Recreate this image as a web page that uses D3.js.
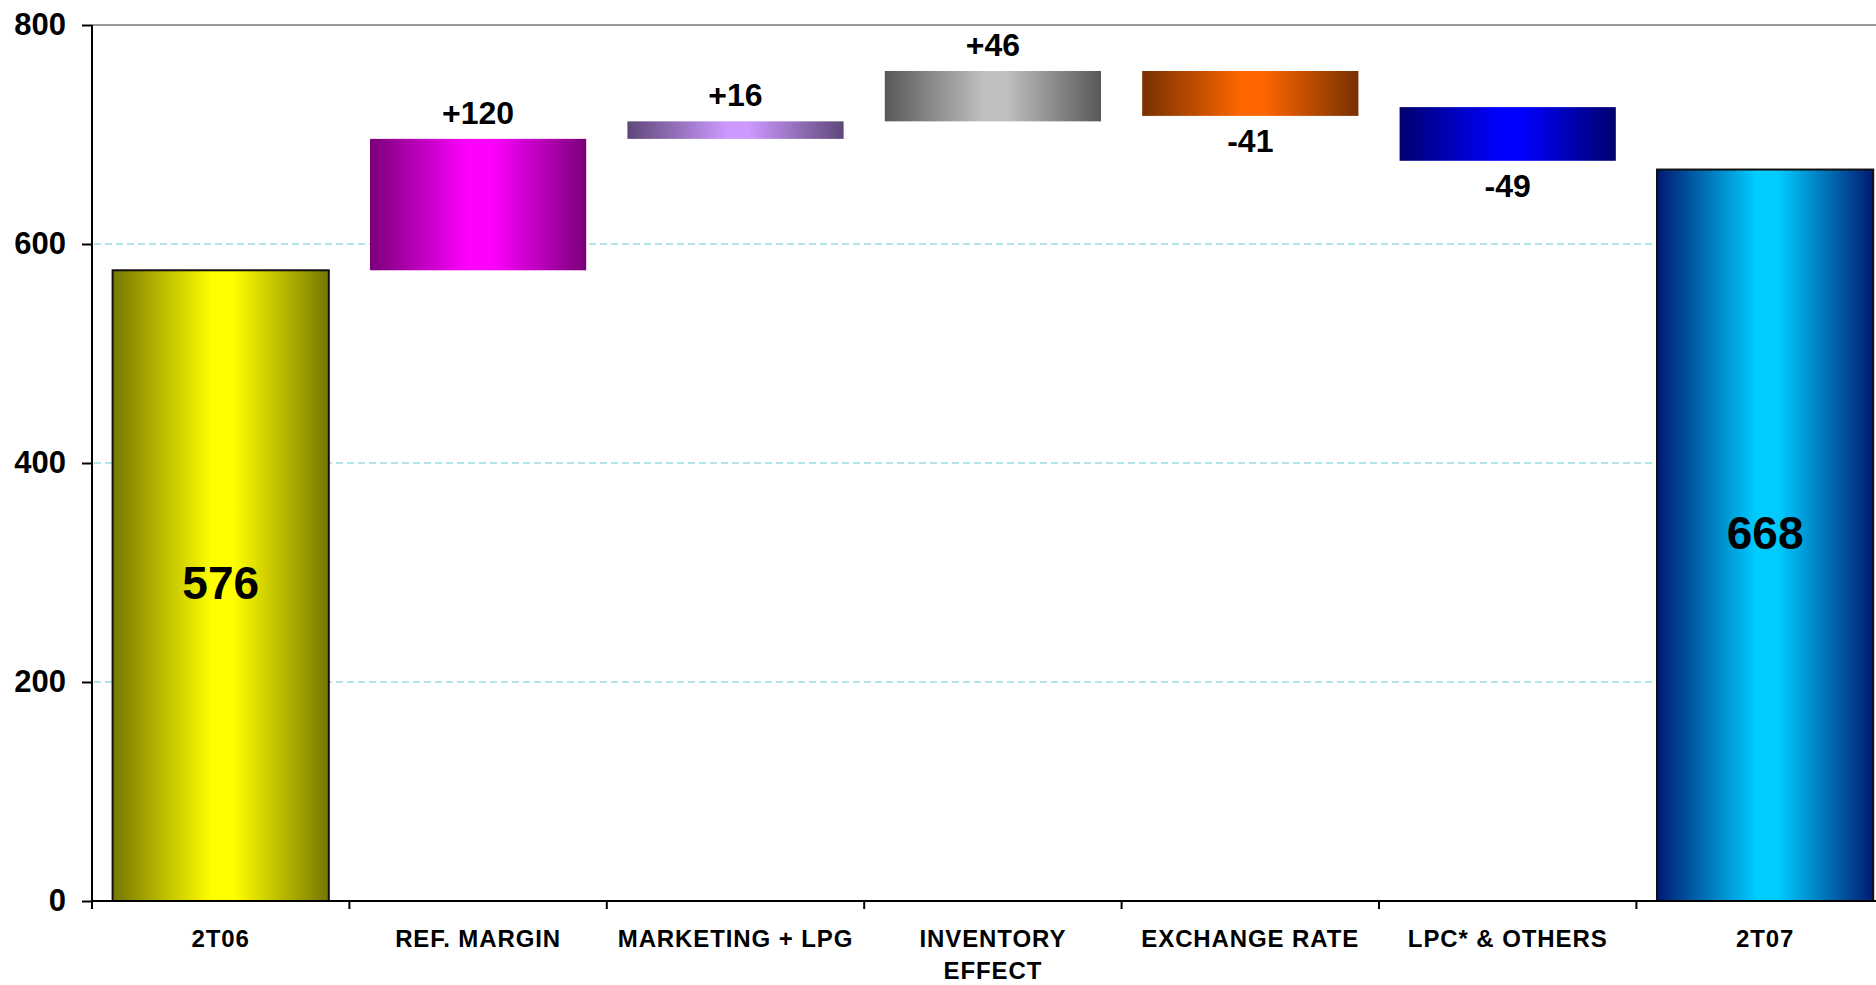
<!DOCTYPE html>
<html>
<head>
<meta charset="utf-8">
<script src="https://cdn.jsdelivr.net/npm/d3@7"></script>
<style>
  body { margin: 0; background: #fff; }
  svg { display: block; font-family: "Liberation Sans", Arial, sans-serif; font-weight: bold; }
</style>
</head>
<body>
<div id="chart"></div>
<script>
// waterfall data
const categories = ['2T06', 'REF. MARGIN', 'MARKETING + LPG', 'INVENTORY\nEFFECT', 'EXCHANGE RATE', 'LPC* & OTHERS', '2T07'];
const bases = [0, 576, 696, 712, 717, 676, 0];
const heights = [576, 120, 16, 46, 41, 49, 668];
const valueLabels = ['576', '+120', '+16', '+46', '-41', '-49', '668'];
const isTotal = [true, false, false, false, false, false, true];
const yTicks = [0, 200, 400, 600, 800];
const gradColors = [
  ['#767600', '#ffff00'],
  ['#7a007a', '#ff00ff'],
  ['#5e4878', '#cc99ff'],
  ['#585858', '#c0c0c0'],
  ['#763000', '#ff6600'],
  ['#00006e', '#0000ff'],
  ['#001a72', '#00ccff']
];

const width = 1876, height = 985;
const plotLeft = 92, plotTop = 25, plotBottom = 901;
const band = 257.4;

const svg = d3.select('#chart').append('svg')
  .attr('width', width)
  .attr('height', height);

const x = d3.scaleBand()
  .domain(categories)
  .range([plotLeft, plotLeft + band * categories.length])
  .padding(0);

const y = d3.scaleLinear().domain([0, 800]).range([plotBottom, plotTop]);

const barW = x.bandwidth() * 0.84;

// gradients
const defs = svg.append('defs');
gradColors.forEach((c, i) => {
  const g = defs.append('linearGradient')
    .attr('id', 'grad' + i)
    .attr('x1', '0%').attr('x2', '100%').attr('y1', '0%').attr('y2', '0%');
  g.append('stop').attr('offset', '0%').attr('stop-color', c[0]);
  g.append('stop').attr('offset', '46%').attr('stop-color', c[1]);
  g.append('stop').attr('offset', '56%').attr('stop-color', c[1]);
  g.append('stop').attr('offset', '100%').attr('stop-color', c[0]);
});

// gridlines
svg.append('g')
  .selectAll('line')
  .data(yTicks.filter(d => d > 0 && d < 800))
  .enter().append('line')
  .attr('x1', plotLeft + 2).attr('x2', width)
  .attr('y1', d => y(d)).attr('y2', d => y(d))
  .attr('stroke', '#66cccc')
  .attr('stroke-width', 1.2)
  .attr('stroke-dasharray', '7,4');

// top border
svg.append('line')
  .attr('x1', plotLeft).attr('x2', width)
  .attr('y1', y(800)).attr('y2', y(800))
  .attr('stroke', '#999')
  .attr('stroke-width', 2);

// bars
svg.append('g')
  .selectAll('rect')
  .data(categories)
  .enter().append('rect')
  .attr('x', d => x(d) + (x.bandwidth() - barW) / 2)
  .attr('width', barW)
  .attr('y', (d, i) => y(bases[i] + heights[i]))
  .attr('height', (d, i) => y(bases[i]) - y(bases[i] + heights[i]))
  .attr('fill', (d, i) => `url(#grad${i})`)
  .attr('stroke', (d, i) => isTotal[i] ? '#111' : 'none')
  .attr('stroke-width', 2);

// value labels
svg.append('g')
  .selectAll('text')
  .data(categories)
  .enter().append('text')
  .attr('x', d => x(d) + x.bandwidth() / 2)
  .attr('y', (d, i) => {
    if (isTotal[i]) return y(heights[i] / 2);
    if (valueLabels[i][0] === '-') return y(bases[i]) + 13;
    return y(bases[i] + heights[i]) - 15;
  })
  .attr('dy', (d, i) => isTotal[i] ? '0.3em' : (valueLabels[i][0] === '-' ? '0.72em' : 0))
  .attr('text-anchor', 'middle')
  .attr('font-size', (d, i) => isTotal[i] ? 46 : 32)
  .attr('fill', '#000')
  .text((d, i) => valueLabels[i]);

// y axis
const yAxis = svg.append('g')
  .attr('transform', `translate(${plotLeft},0)`)
  .call(d3.axisLeft(y).tickValues(yTicks).tickSize(10).tickPadding(16));
yAxis.select('.domain').remove();
yAxis.selectAll('.tick line').attr('stroke', '#000').attr('stroke-width', 2);
yAxis.selectAll('.tick text')
  .attr('font-size', 31)
  .attr('font-family', '"Liberation Sans", Arial, sans-serif')
  .attr('font-weight', 'bold')
  .attr('fill', '#000');

svg.append('line')
  .attr('x1', plotLeft).attr('x2', plotLeft)
  .attr('y1', plotTop).attr('y2', plotBottom + 8)
  .attr('stroke', '#000').attr('stroke-width', 2);

// x axis
svg.append('line')
  .attr('x1', plotLeft).attr('x2', width)
  .attr('y1', plotBottom).attr('y2', plotBottom)
  .attr('stroke', '#000').attr('stroke-width', 2);

svg.append('g')
  .selectAll('line')
  .data(categories.slice(1))
  .enter().append('line')
  .attr('x1', d => x(d)).attr('x2', d => x(d))
  .attr('y1', plotBottom).attr('y2', plotBottom + 8)
  .attr('stroke', '#000').attr('stroke-width', 2);

const catText = svg.append('g')
  .selectAll('text')
  .data(categories)
  .enter().append('text')
  .attr('x', d => x(d) + x.bandwidth() / 2)
  .attr('y', plotBottom + 46)
  .attr('text-anchor', 'middle')
  .attr('font-size', 24)
  .attr('letter-spacing', 0.9)
  .attr('fill', '#000');

catText.selectAll('tspan')
  .data(d => d.split('\n').map(t => ({t, cx: x(d) + x.bandwidth() / 2})))
  .enter().append('tspan')
  .attr('x', d => d.cx)
  .attr('dy', (d, i) => i === 0 ? 0 : 32)
  .text(d => d.t);
</script>
</body>
</html>
